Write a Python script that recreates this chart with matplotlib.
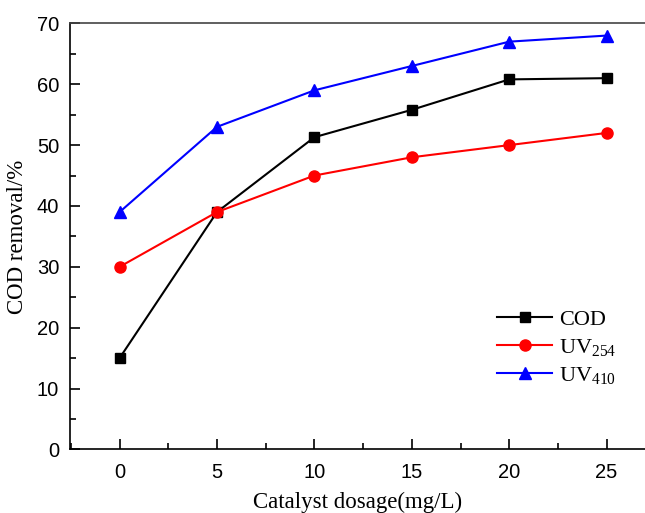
import numpy as np
import matplotlib
matplotlib.use('Agg')
import matplotlib.pyplot as plt
from matplotlib.ticker import MultipleLocator

# data
dosage = [0, 5, 10, 15, 20, 25]
cod = [15, 39, 51.3, 55.8, 60.8, 61]
uv254 = [30, 39, 45, 48, 50, 52]
uv410 = [39, 53, 59, 63, 67, 68]

plt.rcParams['mathtext.fontset'] = 'custom'
plt.rcParams['mathtext.rm'] = 'Liberation Serif'

fig = plt.figure(figsize=(6.45, 5.13), dpi=100)
ax = fig.add_axes([0.109, 0.124, 0.891, 0.8304])

ax.plot(dosage, cod, color='black', marker='s', markersize=7, lw=1.5, label='COD')
ax.plot(dosage, uv254, color='red', marker='o', markersize=8, lw=1.5, label='UV$_{254}$')
ax.plot(dosage, uv410, color='blue', marker='^', markersize=9, lw=1.5, label='UV$_{410}$')

ax.set_xlim(-2.53, 26.97)
ax.set_ylim(0, 70)
ax.xaxis.set_major_locator(MultipleLocator(5))
ax.xaxis.set_minor_locator(MultipleLocator(2.5))
ax.yaxis.set_major_locator(MultipleLocator(10))
ax.yaxis.set_minor_locator(MultipleLocator(5))
ax.tick_params(which='both', direction='in', top=False, right=False, width=1.2)
ax.tick_params(which='major', length=7, labelsize=14.5)
ax.tick_params(axis='x', which='major', pad=10)
ax.tick_params(axis='y', which='major', pad=8)
ax.tick_params(which='minor', length=4)
for lab in ax.get_xticklabels() + ax.get_yticklabels():
    lab.set_family('Liberation Sans')
ax.spines['right'].set_visible(False)
for s in ['left', 'bottom', 'top']:
    ax.spines[s].set_linewidth(1.2)
ax.spines['top'].set_color('#444444')

ax.set_xlabel('Catalyst dosage(mg/L)', family='Liberation Serif', fontsize=16.5, labelpad=7)
ax.set_ylabel('COD removal/%', family='Liberation Serif', fontsize=16.5, labelpad=6)

leg = ax.legend(loc='lower right', bbox_to_anchor=(0.985, 0.1), frameon=False,
                prop={'family': 'Liberation Serif', 'size': 16},
                handlelength=2.5, handletextpad=0.3, labelspacing=0.3)

fig.savefig('out.png', dpi=100)
